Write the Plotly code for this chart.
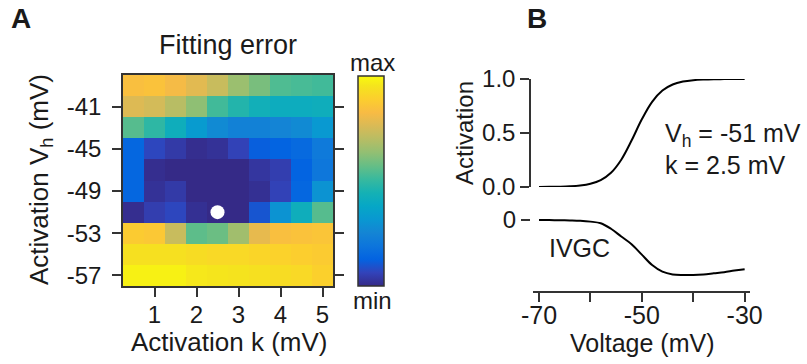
import plotly.graph_objects as go

W, H = 807, 364

# ---------------- data ----------------
k_vals = [0.5, 1.0, 1.5, 2.0, 2.5, 3.0, 3.5, 4.0, 4.5, 5.0]
vh_vals = [-39, -41, -43, -45, -47, -49, -51, -53, -55, -57]  # top to bottom
err_rows = [
    [0.84, 0.85, 0.82, 0.78, 0.73, 0.65, 0.60, 0.54, 0.53, 0.52],
    [0.77, 0.75, 0.70, 0.63, 0.52, 0.47, 0.43, 0.41, 0.41, 0.42],
    [0.55, 0.49, 0.42, 0.33, 0.27, 0.24, 0.24, 0.25, 0.27, 0.32],
    [0.14, 0.07, 0.04, 0.01, 0.02, 0.06, 0.12, 0.13, 0.15, 0.21],
    [0.14, 0.01, 0.00, 0.00, 0.00, 0.00, 0.03, 0.05, 0.13, 0.20],
    [0.14, 0.02, 0.04, 0.00, 0.00, 0.00, 0.015, 0.06, 0.14, 0.30],
    [0.01, 0.05, 0.07, 0.015, 0.00, 0.00, 0.10, 0.30, 0.42, 0.55],
    [0.88, 0.87, 0.73, 0.56, 0.58, 0.66, 0.79, 0.84, 0.85, 0.86],
    [0.94, 0.94, 0.94, 0.93, 0.92, 0.92, 0.91, 0.90, 0.89, 0.88],
    [0.98, 0.98, 0.98, 0.96, 0.955, 0.95, 0.94, 0.93, 0.92, 0.895],
]
best_k = [2.5]
best_vh = [-51]

volt = [-70, -68, -66, -64, -62, -60, -58, -56, -54, -52, -50, -48, -46,
        -44, -42, -40, -38, -36, -34, -32, -30]
activation = [0.0006, 0.0013, 0.0028, 0.0062, 0.0137, 0.030, 0.064, 0.132,
              0.253, 0.430, 0.627, 0.789, 0.893, 0.949, 0.976, 0.989, 0.995,
              0.998, 0.999, 1.0, 1.0]
ivgc = [0.0, -0.002, -0.005, -0.009, -0.015, -0.03, -0.06, -0.16, -0.30,
        -0.44, -0.63, -0.82, -0.94, -0.99, -1.0, -1.0, -0.99, -0.97, -0.95,
        -0.92, -0.895]

heat_xticks = [1, 2, 3, 4, 5]
heat_xticktext = ["1", "2", "3", "4", "5"]
heat_top_ticks = [0.5, 1.5, 2.5, 3.5, 4.5]
heat_yticks = [-41, -45, -49, -53, -57]
heat_yticktext = ["-41", "-45", "-49", "-53", "-57"]
volt_ticks = [-70, -60, -50, -40, -30]
volt_ticktext = ["-70", "", "-50", "", "-30"]
act_ticks = [0, 0.5, 1]
act_ticktext = ["0.0", "0.5", "1.0"]

parula = [
    (0.2081, 0.1663, 0.5292), (0.1959, 0.2645, 0.7279), (0.0117, 0.3875, 0.8820),
    (0.0498, 0.4586, 0.8641), (0.0793, 0.5200, 0.8312), (0.0343, 0.5966, 0.8199),
    (0.0228, 0.6535, 0.7768), (0.0843, 0.6928, 0.7062), (0.2178, 0.7250, 0.6193),
    (0.3953, 0.7459, 0.5244), (0.5709, 0.7485, 0.4494), (0.7184, 0.7411, 0.3905),
    (0.8507, 0.7299, 0.3360), (0.9739, 0.7314, 0.2666), (0.9880, 0.8066, 0.1794),
    (0.9589, 0.8949, 0.1132), (0.9763, 0.9831, 0.0538)]
pos = [i * 4 / 63 for i in range(16)] + [1.0]
colorscale = [[p, "rgb(%d,%d,%d)" % tuple(round(c * 255) for c in col)]
              for p, col in zip(pos, parula)]

FONT = "Liberation Sans, Arial, sans-serif"
TXT = "#1a1a1a"
LINE = "#333333"


def px(x):
    return x / W


def py(y):
    return 1 - y / H


fig = go.Figure()

fig.add_trace(go.Heatmap(
    x=k_vals, y=vh_vals, z=err_rows, colorscale=colorscale, zmin=0, zmax=1,
    xaxis="x", yaxis="y",
    colorbar=dict(thickness=26, lenmode="pixels", len=210,
                  x=px(358), xanchor="left", y=py(76), yanchor="top",
                  xpad=0, ypad=0, showticklabels=False, ticks="",
                  outlinewidth=1.5, outlinecolor=LINE),
))
fig.add_trace(go.Scatter(
    x=best_k, y=best_vh, mode="markers", xaxis="x", yaxis="y",
    marker=dict(color="white", size=14), showlegend=False, hoverinfo="skip"))

fig.add_trace(go.Scatter(
    x=volt, y=activation, mode="lines", line=dict(color="black", width=2, shape="spline"),
    xaxis="x2", yaxis="y2", showlegend=False))
fig.add_trace(go.Scatter(
    x=volt, y=ivgc, mode="lines", line=dict(color="black", width=2, shape="spline"),
    xaxis="x2", yaxis="y3", showlegend=False))

tickfont = dict(family=FONT, size=24, color=TXT)

fig.update_layout(
    width=W, height=H, margin=dict(l=0, r=0, t=0, b=0, autoexpand=False),
    paper_bgcolor="white", plot_bgcolor="white", showlegend=False,
    font=dict(family=FONT, color=TXT),
    xaxis=dict(domain=[px(123), px(333)], range=[0.25, 5.25], anchor="y",
               tickvals=heat_xticks, ticktext=heat_xticktext, ticks="outside",
               ticklen=9, tickwidth=1.5, automargin=False,
               tickcolor=LINE, showline=True, linecolor=LINE, linewidth=1.5,
               mirror=True, showgrid=False, zeroline=False, tickfont=tickfont,
               ticklabelstandoff=-3),
    xaxis3=dict(domain=[px(123), px(333)], range=[0.25, 5.25], anchor="y",
                overlaying="x", side="top", tickvals=heat_top_ticks,
                showticklabels=False, ticks="outside", ticklen=9, tickwidth=1.5,
                automargin=False,
                tickcolor=LINE, showgrid=False, zeroline=False, showline=False),
    yaxis=dict(domain=[py(286), py(75)], range=[-58, -38], anchor="x",
               tickvals=heat_yticks, ticktext=heat_yticktext, ticks="outside",
               ticklen=9, tickwidth=1.5, automargin=False,
               tickcolor=LINE, showline=True, linecolor=LINE, linewidth=1.5,
               mirror="ticks", showgrid=False, zeroline=False, tickfont=tickfont,
               ticklabelstandoff=6),
    xaxis2=dict(domain=[px(533), px(750)], range=[-71.17, -28.96], anchor="y3",
                tickvals=volt_ticks, ticktext=volt_ticktext, ticks="outside",
                ticklen=9, tickwidth=1.5, tickcolor=LINE, showline=True,
                automargin=False,
                linecolor=LINE, linewidth=1.5, showgrid=False, zeroline=False,
                tickfont=dict(family=FONT, size=25, color=TXT), ticklabelstandoff=-8),
    yaxis2=dict(domain=[py(187), py(79)], range=[0, 1], anchor="free",
                position=px(530), tickvals=act_ticks, ticktext=act_ticktext,
                ticks="outside", ticklen=9, tickwidth=1.5, tickcolor=LINE,
                automargin=False,
                showline=True, linecolor=LINE, linewidth=1.5, showgrid=False,
                zeroline=False, tickfont=dict(family=FONT, size=24, color=TXT)),
    yaxis3=dict(domain=[py(291), py(212)], range=[-1.291, 0.145], anchor="free",
                position=px(530), tickvals=[0], ticktext=["0"],
                ticks="outside", ticklen=9, tickwidth=1.5, tickcolor=LINE,
                automargin=False,
                showline=False, showgrid=False, zeroline=False,
                tickfont=dict(family=FONT, size=24, color=TXT)),
)

ann = []


def add(text, x, y, size=24, xanchor="center", yanchor="middle", angle=0, bold=False):
    ann.append(dict(text=("<b>%s</b>" % text) if bold else text,
                    x=px(x), y=py(y), xref="paper", yref="paper",
                    xanchor=xanchor, yanchor=yanchor, textangle=angle,
                    showarrow=False, font=dict(family=FONT, size=size, color=TXT)))


add("A", 21, 18, size=28, bold=True)
add("B", 537, 18, size=28, bold=True)
add("Fitting error", 228, 45, size=27)
add("max", 372, 62, size=24)
add("min", 372, 300, size=24)
add("Activation k (mV)", 229, 342, size=26)
add("Activation V<sub>h</sub> (mV)", 40, 180, size=26, angle=-90)
add("Activation", 464, 133, size=24, angle=-90)
add("Voltage (mV)", 642, 343, size=25)
add("IVGC", 579, 248, size=25)
add("V<sub>h</sub> = -51 mV", 663, 135, size=25, xanchor="left")
add("k = 2.5 mV", 663, 165, size=25, xanchor="left")
fig.update_layout(annotations=ann)

fig.write_html("out.html")
